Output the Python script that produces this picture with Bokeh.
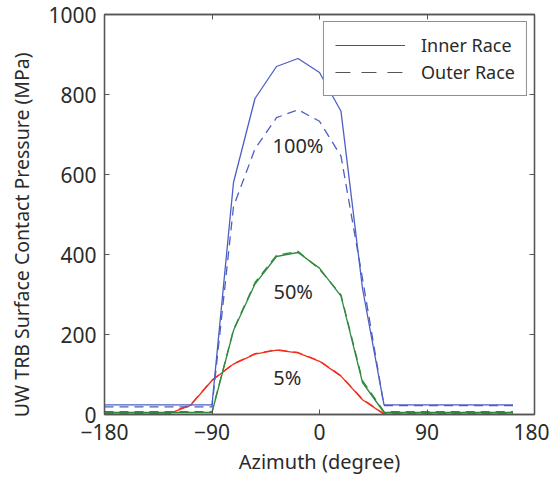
from bokeh.plotting import figure
from bokeh.models import LinearAxis, Range1d, FixedTicker, Legend, LegendItem, Label
from bokeh.embed import file_html
from bokeh.resources import INLINE

azimuth = [-180, -162, -144, -126, -108, -90, -72, -54, -36, -18, 0, 18, 36, 54, 72, 90, 108, 126, 144, 162]
inner_100 = [24, 24, 24, 24, 24, 24, 580, 790, 870, 890, 855, 758, 315, 24, 24, 24, 24, 24, 24, 24]
outer_100 = [19, 19, 19, 19, 19, 19, 520, 664, 742, 762, 733, 646, 340, 22, 22, 22, 22, 22, 22, 22]
inner_50 = [5, 5, 5, 5, 5, 5, 210, 326, 395, 405, 366, 296, 80, 5, 5, 5, 5, 5, 5, 5]
outer_50 = [7, 7, 7, 7, 7, 7, 212, 330, 398, 408, 363, 299, 85, 7, 7, 7, 7, 7, 7, 7]
inner_5 = [1, 1, 1, 2, 23, 85, 126, 151, 161, 154, 133, 96, 37, 1, 1, 1, 1, 1, 1, 1]
outer_5 = [2, 2, 2, 3, 24, 86, 127, 152, 162, 155, 134, 97, 38, 2, 2, 2, 2, 2, 2, 2]

x_ticks = [-180, -90, 0, 90, 180]
y_ticks = [0, 200, 400, 600, 800, 1000]
load_labels = ["100%", "50%", "5%"]
load_label_x = [-18, -22, -27]
load_label_y = [672, 308, 92]

BLUE = "#4d5fc4"
GREEN = "#2f8a3e"
RED = "#f0301e"
FRAME = "#555555"
TEXT = "#2a2a2a"
FONT = "Noto Sans"

p = figure(width=549, height=477, output_backend="svg", toolbar_location=None,
           x_range=Range1d(-180, 180), y_range=Range1d(0, 1000),
           min_border_left=104, min_border_right=15, min_border_top=14, min_border_bottom=60)
p.grid.visible = False
p.outline_line_color = FRAME
p.outline_line_width = 1.3
p.background_fill_color = "white"

overrides = {t: ("\u2212" + str(-t) if t < 0 else str(t)) for t in x_ticks}

for ax in [p.xaxis[0], p.yaxis[0]]:
    ax.major_tick_in = 5
    ax.major_tick_out = 0
    ax.minor_tick_line_color = None
    ax.axis_line_color = FRAME
    ax.axis_line_width = 1.3
    ax.major_tick_line_color = FRAME
    ax.major_label_text_font = FONT
    ax.major_label_text_font_size = "21px"
    ax.major_label_text_color = TEXT
    ax.axis_label_text_font = FONT
    ax.axis_label_text_font_style = "normal"
    ax.axis_label_text_color = TEXT

p.xaxis[0].ticker = FixedTicker(ticks=x_ticks)
p.xaxis[0].major_label_overrides = overrides
p.xaxis[0].axis_label = "Azimuth (degree)"
p.xaxis[0].axis_label_text_font_size = "20px"
p.xaxis[0].major_label_standoff = 9
p.xaxis[0].axis_label_standoff = 5
p.yaxis[0].ticker = FixedTicker(ticks=y_ticks)
p.yaxis[0].axis_label = "UW TRB Surface Contact Pressure (MPa)" + "\u00a0" * 8
p.yaxis[0].axis_label_text_font_size = "19.5px"
p.yaxis[0].major_label_standoff = 8
p.yaxis[0].axis_label_standoff = 10

for side, ticks in [("right", y_ticks), ("above", x_ticks)]:
    ax = LinearAxis(ticker=FixedTicker(ticks=ticks))
    ax.major_tick_in = 5
    ax.major_tick_out = 0
    ax.minor_tick_line_color = None
    ax.axis_line_color = FRAME
    ax.axis_line_width = 1.3
    ax.major_tick_line_color = FRAME
    ax.major_label_text_font_size = "1px"
    ax.major_label_text_color = None
    ax.major_label_standoff = 0
    p.add_layout(ax, side)

lw = 1.3
p.line(azimuth, outer_5, line_color=RED, line_width=lw, line_dash="9 6")
p.line(azimuth, inner_5, line_color=RED, line_width=lw)
p.line(azimuth, outer_50, line_color=GREEN, line_width=lw, line_dash="9 6")
p.line(azimuth, inner_50, line_color=GREEN, line_width=lw)
p.line(azimuth, outer_100, line_color=BLUE, line_width=lw, line_dash="9 6")
p.line(azimuth, inner_100, line_color=BLUE, line_width=lw)

for t, xx, yy in zip(load_labels, load_label_x, load_label_y):
    p.add_layout(Label(x=xx, y=yy, text=t, text_font=FONT, text_font_size="20px",
                       text_color=TEXT, text_align="center", text_baseline="middle"))

nan = float("nan")
leg_inner = p.line([nan], [nan], line_color=FRAME, line_width=1.2)
leg_outer = p.line([nan], [nan], line_color=FRAME, line_width=1.2, line_dash="15 11")
legend = Legend(items=[LegendItem(label="Inner Race", renderers=[leg_inner]),
                       LegendItem(label="Outer Race", renderers=[leg_outer])],
                location="top_right")
legend.border_line_color = "#222222"
legend.border_line_width = 1.2
legend.background_fill_color = "white"
legend.background_fill_alpha = 1
legend.label_text_font = FONT
legend.label_text_font_size = "18px"
legend.label_text_color = TEXT
legend.glyph_width = 70
legend.label_standoff = 16
legend.padding = 11
legend.spacing = 3
legend.margin = 7
legend.label_height = 19
p.add_layout(legend)

open("out.html", "w").write(file_html(p, INLINE))
